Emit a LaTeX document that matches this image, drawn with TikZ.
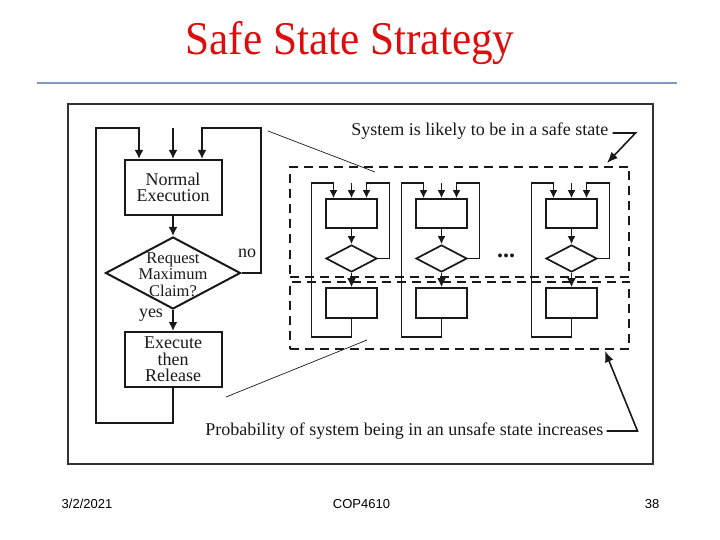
\documentclass[tikz,border=0pt]{standalone}
\usepackage{graphicx}
\usepackage{fontspec}
\setmainfont{Liberation Serif}
\newfontfamily\footfont{Liberation Sans}
\usetikzlibrary{arrows.meta,shapes.geometric}
\definecolor{titlered}{RGB}{222,12,12}
\definecolor{rulecol}{RGB}{122,154,192}
\definecolor{ink}{RGB}{25,25,25}
\definecolor{framecol}{RGB}{50,50,50}
\begin{document}
\begin{tikzpicture}[x=1pt,y=-1pt,
  txt/.style={text=ink,inner sep=0pt,font=\fontsize{18}{16}\selectfont},
  bigbox/.style={draw=ink,line width=2pt,minimum width=97pt,minimum height=55pt,inner sep=0pt,align=center,text=ink,font=\fontsize{18}{16.5}\selectfont},
  bigdia/.style={draw=ink,shape=diamond,line width=2pt,minimum width=135pt,minimum height=72pt,inner sep=0pt},
  mainline/.style={draw=ink,line width=2pt},
  bigarr/.style={-{Latex[length=9pt,width=9pt]}},
  mline/.style={draw=ink,line width=1.7pt},
  marr/.style={-{Latex[length=8pt,width=8pt]}},
  mbox/.style={draw=ink,line width=1.7pt,minimum width=51pt,minimum height=29pt,inner sep=0pt},
  mdia/.style={draw=ink,shape=diamond,line width=1.7pt,minimum width=51pt,minimum height=27pt,inner sep=0pt},
  dashbox/.style={draw=ink,line width=2pt,dash pattern=on 9pt off 6pt,inner sep=0pt},
  thin/.style={draw=ink,line width=0.7pt},
  annarr/.style={draw=ink,line width=1.6pt,-{Latex[length=11pt,width=9pt]}},
  mini/.pic={
    \node[mbox] (-b) at (0,213.5) {};
    \node[mdia] (-d) at (0,258.5) {};
    \node[mbox,minimum height=30pt] (-l) at (0,303) {};
    \coordinate (-t) at (0,183);
    \draw[mline,marr] (-t) -- (-b.north);
    \draw[mline,marr] (-b) -- (-d);
    \draw[mline,-{Latex[length=9pt,width=9pt]}] (-d) -- (-l);
    \draw[mline,marr] (-l.south) -- (0,337) -| (-40,183) -| ([xshift=-18pt]-b.north);
    \draw[mline,marr] (-d.east) -- (38,258.5) |- (15,183) -- ([xshift=15pt]-b.north);
  }]
\useasboundingbox (0,0) rectangle (720,540);
\fill[white] (0,0) rectangle (720,540);

% title and rule
\node[anchor=base,text=titlered,inner sep=0pt] (title) at (350,55)
  {\scalebox{0.92}[1]{\fontsize{47}{47}\selectfont Safe State Strategy}};
\draw[rulecol,line width=2.2pt] (37,83) coordinate (r1) -- (677,83) coordinate (r2);

% frame
\node[draw=framecol,line width=2.4pt,minimum width=585pt,minimum height=360pt,inner sep=0pt] (frame) at (360.5,284) {};

% main flowchart
\node[bigbox] (ne) at (173,187.5) {Normal\\Execution};
\node[bigdia] (dm) at (173,273) {};
\node[text=ink,inner sep=0pt,align=center,font=\fontsize{16.5}{16.5}\selectfont] (dmtxt) at (173,274.5) {Request\\Maximum\\Claim?};
\node[bigbox] (ex) at (173,359.5) {Execute\\then\\Release};
\coordinate (topin) at (173,128);
\draw[mainline,bigarr] (topin) -- (ne.north);
\draw[mainline,bigarr] (ne) -- (dm);
\draw[mainline,bigarr] (dm) -- (ex);
\draw[mainline,bigarr] (ex.south) -- (173,423) -| (96,128) -| ([xshift=-34pt]ne.north);
\draw[mainline,bigarr] (dm.east) -- (261,273) |- (202,128) -- ([xshift=29pt]ne.north);
\node[txt] (no) at (247,253) {no};
\node[txt] (yes) at (151,315.5) {yes};

% dashed regions
\node[dashbox,minimum width=339pt,minimum height=109.5pt] (safe) at (459.5,221.75) {};
\node[dashbox,minimum width=339pt,minimum height=67.5pt] (unsafe) at (459.5,315.25) {};

% mini flowcharts
\pic (u1) at (351.5,0) {mini};
\pic (u2) at (441.5,0) {mini};
\pic (u3) at (571.5,0) {mini};
\node[text=ink,inner sep=0pt,font=\fontsize{24}{24}\selectfont\bfseries] (dots) at (506,256) {...};

% annotations
\node[txt,anchor=east] (safelbl) at (608.5,131.5) {System is likely to be in a safe state};
\node[txt,anchor=east] (unsafelbl) at (603.5,431) {Probability of system being in an unsafe state increases};
\draw[annarr] ([xshift=4pt,yshift=-1.5pt]safelbl.east) -- ++(23,0) -- ([xshift=-23pt,yshift=3pt]safe.north east);
\draw[annarr] ([xshift=3pt]unsafelbl.east) -- ++(31,0) -- ([xshift=-25pt,yshift=-1pt]unsafe.south east);
\coordinate (z1) at (268,131);
\coordinate (z2) at (375,172);
\coordinate (z3) at (226,397);
\coordinate (z4) at (367,340);
\draw[thin] (z1) -- (z2);
\draw[thin] (z3) -- (z4);

% footer
\node[font=\footfont\fontsize{13}{13}\selectfont,inner sep=0pt] (date) at (87,504) {3/2/2021};
\node[font=\footfont\fontsize{13}{13}\selectfont,inner sep=0pt] (course) at (361.5,504) {COP4610};
\node[font=\footfont\fontsize{13}{13}\selectfont,inner sep=0pt] (page) at (652,504) {38};
\end{tikzpicture}
\end{document}
